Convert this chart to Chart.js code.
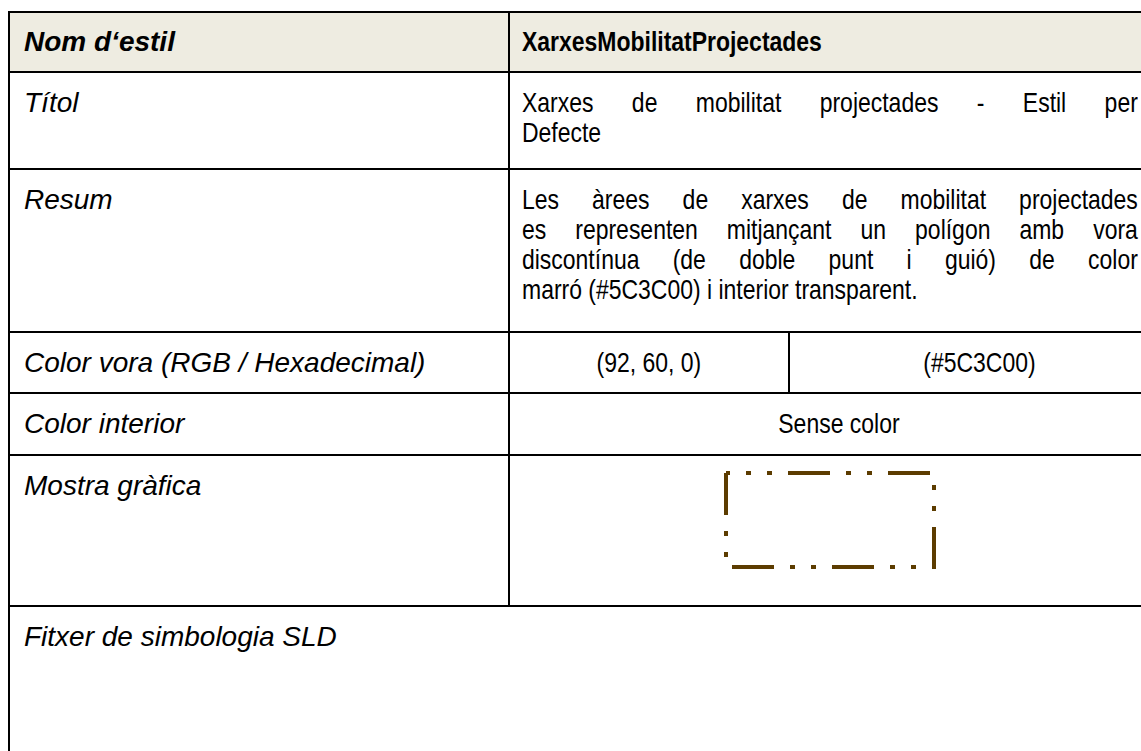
<!DOCTYPE html>
<html>
<head>
<meta charset="utf-8">
<script src="https://cdn.jsdelivr.net/npm/chart.js@4/dist/chart.umd.min.js"></script>
<style>
  html, body { margin: 0; padding: 0; background: #fff; }
  body { width: 1141px; height: 751px; overflow: hidden; position: relative;
         font-family: "Liberation Sans", Arial, sans-serif; font-size: 28px; color: #000; }
  table { position: absolute; left: 8px; top: 11px; width: 1160px; border-collapse: collapse; table-layout: fixed; }
  td { border: 2px solid #000; vertical-align: top; padding: 0; line-height: 30px; }
  td.lab { font-style: italic; padding: 15px 14px 0 14px; white-space: nowrap; }
  tr.head td { background: #eeece1; font-weight: bold; vertical-align: middle; padding-top: 0; }
  td.val { padding: 15px 0 0 12px; }
  td.mid { text-align: center; vertical-align: middle; padding: 0; }
  /* condensed face for the value column */
  .narrow { width: 751px; transform: scaleX(0.82); transform-origin: 0 0; }
  .nspan { display: inline-block; transform: scaleX(0.82); }
  .just { text-align: justify; text-align-last: justify; }
  #sample { position: absolute; left: 716px; top: 463px; width: 228px; height: 115px; }
</style>
</head>
<body>
<table id="tbl">
  <colgroup><col style="width:500px"><col style="width:280px"><col style="width:380px"></colgroup>
  <tr class="head" style="height:60px">
    <td class="lab" style="padding-top:0">Nom d‘estil</td>
    <td class="val" colspan="2" style="padding-top:0"><div class="narrow">XarxesMobilitatProjectades</div></td>
  </tr>
  <tr style="height:97px">
    <td class="lab">Títol</td>
    <td class="val" colspan="2"><div class="narrow" id="titolCell"></div></td>
  </tr>
  <tr style="height:163px">
    <td class="lab">Resum</td>
    <td class="val" colspan="2"><div class="narrow" id="resumCell"></div></td>
  </tr>
  <tr style="height:61px">
    <td class="lab" style="vertical-align:middle;padding-top:0">Color vora (RGB / Hexadecimal)</td>
    <td class="mid"><span class="nspan" id="rgbCell"></span></td>
    <td class="mid"><span class="nspan" id="hexCell"></span></td>
  </tr>
  <tr style="height:62px">
    <td class="lab" style="vertical-align:middle;padding-top:0">Color interior</td>
    <td class="mid" colspan="2"><span class="nspan">Sense color</span></td>
  </tr>
  <tr style="height:151px">
    <td class="lab">Mostra gràfica</td>
    <td colspan="2"></td>
  </tr>
  <tr style="height:200px">
    <td class="lab" colspan="3" style="padding-top:15px">Fitxer de simbologia SLD</td>
  </tr>
</table>
<canvas id="sample"></canvas>
<script>
// text lines of the value column
const titolLines = ['Xarxes de mobilitat projectades - Estil per', 'Defecte'];
const resumLines = [
  'Les àrees de xarxes de mobilitat projectades',
  'es representen mitjançant un polígon amb vora',
  'discontínua (de doble punt i guió) de color',
  'marró (#5C3C00) i interior transparent.'
];
const borderRgb = [92, 60, 0];
const borderHex = '#5C3C00';

// outline of the sample polygon (closed), starting top-left, going down
const sampleX = [0, 0, 1, 1, 0];
const sampleY = [1, 0, 0, 1, 1];
// long dash, gap, dot, gap, dot, gap
const dashPattern = [42, 16, 5, 16, 5, 16];

function fillLines(id, lines) {
  const cell = document.getElementById(id);
  lines.forEach((line, i) => {
    const div = document.createElement('div');
    div.textContent = line;
    if (i < lines.length - 1) div.className = 'just';
    cell.appendChild(div);
  });
}

fillLines('titolCell', titolLines);
fillLines('resumCell', resumLines);
document.getElementById('rgbCell').textContent = '(' + borderRgb.join(', ') + ')';
document.getElementById('hexCell').textContent = '(' + borderHex + ')';

const hexColor = '#' + borderRgb.map(v => v.toString(16).padStart(2, '0')).join('');

new Chart(document.getElementById('sample'), {
  type: 'scatter',
  data: {
    datasets: [{
      data: sampleX.map((x, i) => ({ x: x, y: sampleY[i] })),
      showLine: true,
      borderColor: hexColor,
      borderWidth: 4,
      borderDash: dashPattern,
      borderDashOffset: 0,
      borderCapStyle: 'butt',
      borderJoinStyle: 'miter',
      pointRadius: 0,
      fill: false,
      tension: 0,
      clip: false
    }]
  },
  options: {
    responsive: false,
    animation: false,
    layout: { padding: 10 },
    plugins: { legend: { display: false }, tooltip: { enabled: false } },
    scales: {
      x: { display: false, min: 0, max: 1 },
      y: { display: false, min: 0, max: 1 }
    }
  }
});
</script>
</body>
</html>
